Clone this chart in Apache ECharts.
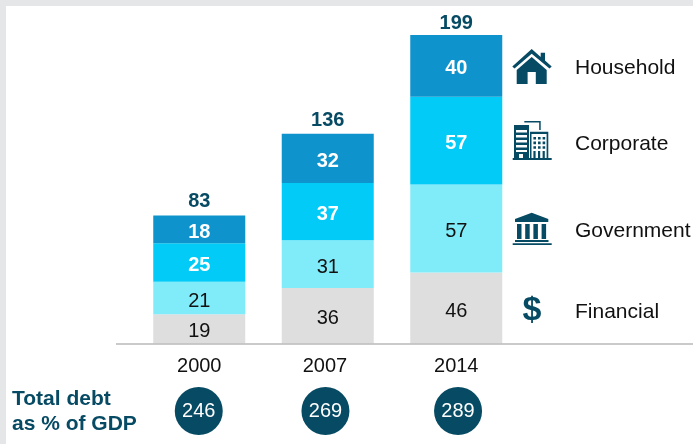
<!DOCTYPE html>
<html>
<head>
<meta charset="utf-8">
<style>
  html, body { margin: 0; padding: 0; background: #fff; }
  #chart { width: 693px; height: 444px; }
</style>
<script src="https://cdn.jsdelivr.net/npm/echarts@6/dist/echarts.min.js"></script>
</head>
<body>
<div id="chart"></div>
<script>
var years = ['2000', '2007', '2014']
var financial = [19, 36, 46]
var government = [21, 31, 57]
var corporate = [25, 37, 57]
var household = [18, 32, 40]
var totals = [83, 136, 199]
var debtToGdp = [246, 269, 289]

var FONT = '"Liberation Sans", Arial, sans-serif'
var NAVY = '#064a63'
// the circles are not quite centred under the bars in the original
var circleNudge = [-0.5, -2.3, 1.8]

function segment(name, values, color, labelColor, bold) {
  return {
    name: name,
    type: 'bar',
    stack: 'debt',
    barWidth: 92,
    data: values,
    itemStyle: { color: color },
    label: {
      show: true,
      position: 'inside',
      offset: [0, 3],
      fontFamily: FONT,
      fontSize: 20,
      fontWeight: bold ? 'bold' : 'normal',
      color: labelColor
    }
  }
}

function legendText(text, y) {
  return {
    type: 'text',
    left: 575,
    top: y - 9,
    style: { text: text, fontFamily: FONT, fontSize: 21, fill: '#111' }
  }
}

function r(x, y, w, h) {
  return 'M' + x + ' ' + y + ' L' + (x + w) + ' ' + y + ' L' + (x + w) + ' ' + (y + h) + ' L' + x + ' ' + (y + h) + ' Z '
}

// icons are plain svg paths in page pixels
function icon(name, pathData) {
  echarts.graphic.registerShape(name, echarts.graphic.extendPath(pathData, {}))
  return { type: name, style: { fill: NAVY } }
}

var houseIcon = 'M531.7 49 L540.7 57 L540.7 52.7 L545 52.7 L545 60.5 L551.7 66.5 L549.5 68.5 L531.7 53.8 L514.5 68.5 L512.3 66.5 Z ' +
  'M531.7 57 L546.7 70 L546.7 84 L535.8 84 L535.8 72 L527.6 72 L527.6 84 L516.7 84 L516.7 70 Z'

var buildingIcon = r(524.3, 121, 16.4, 1.5) + r(539.2, 121, 1.5, 9) +
  r(514, 125, 15, 5) + r(514, 125, 2, 33) + r(527, 125, 2, 33) +
  r(514, 132.5, 15, 2.5) + r(514, 137.5, 15, 2.5) + r(514, 142.5, 15, 2.5) + r(514, 147.5, 15, 2.5) +
  r(514, 152, 15, 2) + r(514, 154, 5, 4) + r(523, 154, 6, 4) +
  r(530, 131.7, 18.3, 2.3) + r(530, 131.7, 1.5, 26.3) + r(546.6, 131.7, 1.7, 26.3) +
  r(533.4, 137, 2.6, 2.6) + r(538, 137, 2.6, 2.6) + r(542.6, 137, 2.6, 2.6) +
  r(533.4, 141.6, 2.6, 2.6) + r(538, 141.6, 2.6, 2.6) + r(542.6, 141.6, 2.6, 2.6) +
  r(533.4, 146.2, 2.6, 2.6) + r(538, 146.2, 2.6, 2.6) + r(542.6, 146.2, 2.6, 2.6) +
  r(533.4, 151, 2.2, 7) + r(538, 151, 2.2, 7) + r(542.6, 151, 2.2, 7) +
  r(512.7, 158, 39, 2)

var bankIcon = 'M531.7 212.7 L548.3 219 L548.3 222 L515 222 L515 219 Z ' +
  r(517, 224, 4.5, 15) + r(525.2, 224, 4.5, 15) + r(533.4, 224, 4.5, 15) + r(541.6, 224, 4.5, 15) +
  r(515, 240, 33.5, 2) + r(512.7, 243.3, 39, 1.7)

var chart = echarts.init(document.getElementById('chart'))
var option = {
  backgroundColor: '#e5e6e8',
  animation: false,
  grid: [
    { left: 135, top: 35, width: 385.5, height: 308.5 },
    { left: 135, top: 387, width: 385.5, height: 48 }
  ],
  xAxis: [
    {
      type: 'category',
      gridIndex: 0,
      data: years,
      axisLine: { show: false },
      axisTick: { show: false },
      axisLabel: {
        margin: 13,
        fontFamily: FONT,
        fontSize: 20,
        color: '#111',
        // 2007 sits a little left of its bar in the original
        formatter: function (v) { return v === '2007' ? v + ' ' : v }
      }
    },
    { type: 'category', gridIndex: 1, data: years, show: false }
  ],
  yAxis: [
    { type: 'value', gridIndex: 0, min: 0, max: 200, show: false },
    { type: 'value', gridIndex: 1, min: -1, max: 1, show: false }
  ],
  series: [
    segment('Financial', financial, '#dedede', '#111', false),
    segment('Government', government, '#80ecf9', '#111', false),
    segment('Corporate', corporate, '#02cbf7', '#fff', true),
    segment('Household', household, '#0f93cc', '#fff', true),
    {
      name: 'Total',
      type: 'line',
      data: totals,
      symbol: 'circle',
      symbolSize: 1,
      itemStyle: { color: 'transparent' },
      lineStyle: { width: 0, color: 'transparent' },
      label: {
        show: true,
        position: 'top',
        distance: 3,
        fontFamily: FONT,
        fontSize: 20,
        fontWeight: 'bold',
        color: NAVY
      }
    },
    {
      name: 'Total debt as % of GDP',
      type: 'scatter',
      xAxisIndex: 1,
      yAxisIndex: 1,
      symbolSize: 48,
      itemStyle: { color: NAVY, opacity: 1 },
      data: debtToGdp.map(function (v, i) {
        return { value: [years[i], 0], debt: v, symbolOffset: [circleNudge[i], 0] }
      }),
      label: {
        show: true,
        position: 'inside',
        fontFamily: FONT,
        fontSize: 20,
        color: '#fff',
        formatter: function (p) { return p.data.debt }
      }
    }
  ],
  graphic: [
    { type: 'rect', shape: { x: 6, y: 6, width: 687, height: 438 }, style: { fill: '#fff' }, z: -1 },
    { type: 'line', shape: { x1: 116, y1: 344, x2: 693, y2: 344 }, style: { stroke: '#b8b8b8', lineWidth: 1.5 }, z: 5 },
    icon('houseIcon', houseIcon),
    icon('buildingIcon', buildingIcon),
    icon('bankIcon', bankIcon),
    {
      type: 'text',
      left: 522.5,
      top: 294,
      style: { text: '$', fontFamily: FONT, fontSize: 34, fontWeight: 'bold', fill: NAVY }
    },
    legendText('Household', 67),
    legendText('Corporate', 143),
    legendText('Government', 230),
    legendText('Financial', 311),
    {
      type: 'text',
      left: 12,
      top: 387,
      style: {
        text: 'Total debt\nas % of GDP',
        fontFamily: FONT,
        fontSize: 21,
        fontWeight: 'bold',
        lineHeight: 25,
        fill: NAVY
      }
    }
  ]
}
chart.setOption(option)
</script>
</body>
</html>
